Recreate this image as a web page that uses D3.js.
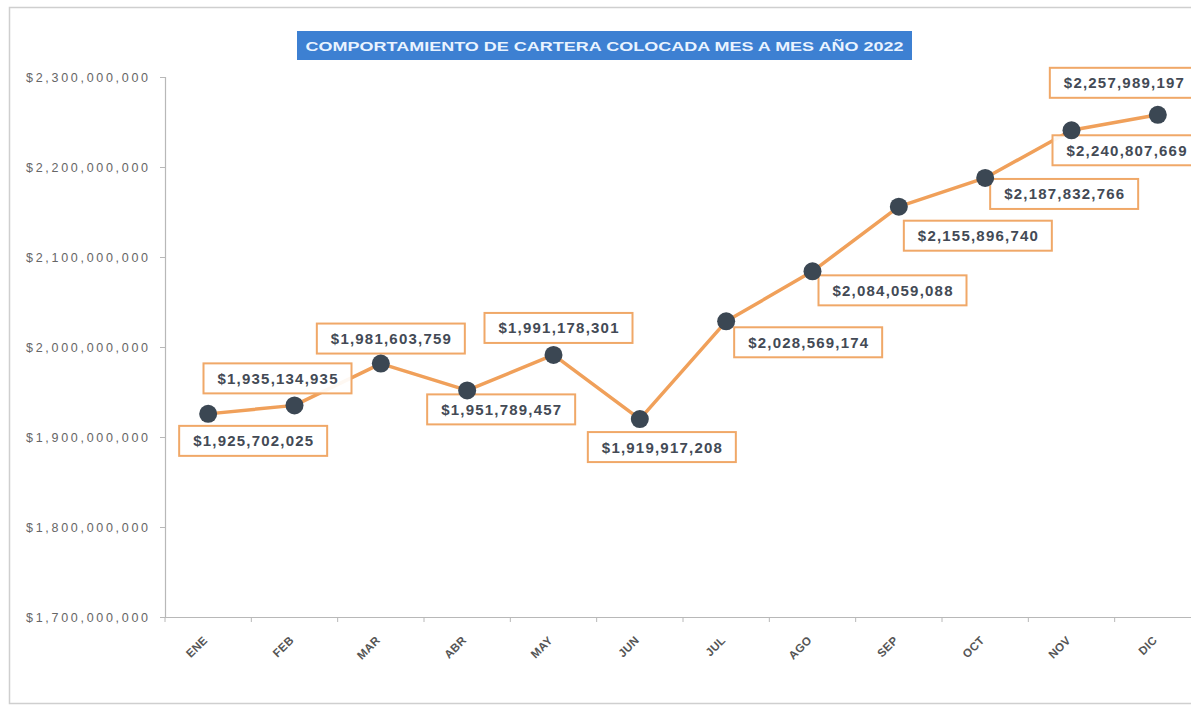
<!DOCTYPE html>
<html><head><meta charset="utf-8">
<script src="https://cdn.jsdelivr.net/npm/d3@7"></script>
<style>
html,body{margin:0;padding:0;background:#fff;}
svg{display:block;font-family:"Liberation Sans",Arial,sans-serif;}
</style></head>
<body>
<svg id="chart" width="1191" height="711"></svg>
<script>
const titleText = "COMPORTAMIENTO DE CARTERA COLOCADA MES A MES AÑO 2022";
const months = ["ENE","FEB","MAR","ABR","MAY","JUN","JUL","AGO","SEP","OCT","NOV","DIC"];
const values = [1925702025,1935134935,1981603759,1951789457,1991178301,1919917208,2028569174,2084059088,2155896740,2187832766,2240807669,2257989197];
const yTicks = [1700000000,1800000000,1900000000,2000000000,2100000000,2200000000,2300000000];
// label box placement relative to each point (layout only)
const labelOffsets = [[45,27],[-17,-27],[10,-25],[34,19],[5,-27],[22,28],[82,21],[80,19],[79,29],[79,16],[55,20],[-34,-32]];

const svg = d3.select("#chart");
const margin = {left:165, top:77, bottom:617, right:1201};

svg.append("rect").attr("x",9.5).attr("y",7.5).attr("width",1220).attr("height",696)
  .attr("fill","#fff").attr("stroke","#cfcfcf").attr("stroke-width",1.5);

const x = d3.scaleBand().domain(months).range([margin.left, margin.right]);
const y = d3.scaleLinear().domain([1700000000, 2300000000]).range([margin.bottom, margin.top]);

const fmt = v => "$" + d3.format(",")(v);

// Y axis
const yAxis = d3.axisLeft(y).tickValues(yTicks).tickSize(5).tickPadding(12).tickFormat(fmt);
const gy = svg.append("g").attr("transform",`translate(${margin.left},0)`).call(yAxis);
gy.select(".domain").attr("stroke","#b8b8b8").attr("stroke-width",1.2);
gy.selectAll(".tick line").attr("stroke","#b8b8b8");
gy.selectAll(".tick text").attr("fill","#666").attr("font-size","12.5px")
  .attr("textLength",122).attr("lengthAdjust","spacing");

// X axis
const xAxis = d3.axisBottom(x).tickSize(0).tickFormat("");
const gx = svg.append("g").attr("transform",`translate(0,${margin.bottom})`).call(xAxis);
gx.select(".domain").attr("stroke","#b8b8b8").attr("stroke-width",1.2);
const bounds = months.map(m => x(m)).concat([margin.right]);
gx.selectAll(".bt").data(bounds).join("line").attr("class","bt")
  .attr("x1",d=>d).attr("x2",d=>d).attr("y1",0).attr("y2",5).attr("stroke","#b8b8b8");
svg.append("g").selectAll("text").data(months).join("text")
  .attr("transform", d => `translate(${x(d)+x.bandwidth()/2},${margin.bottom+24}) rotate(-45)`)
  .attr("text-anchor","end").attr("font-size","11.5px").attr("font-weight","bold")
  .attr("fill","#555").attr("letter-spacing","0.3px").text(d=>d);

// Title
const tb = svg.append("g");
tb.append("rect").attr("x",297).attr("y",31).attr("width",615).attr("height",29).attr("fill","#3d80d2");
tb.append("text").attr("x",604.5).attr("y",50.5).attr("text-anchor","middle")
  .attr("fill","#e9f3ff").attr("font-weight","bold").attr("font-size","13px")
  .attr("textLength",598).attr("lengthAdjust","spacingAndGlyphs").text(titleText);

// Line
const line = d3.line().x((d,i)=>x(months[i])+x.bandwidth()/2).y(d=>y(d));
svg.append("path").datum(values).attr("d",line).attr("fill","none")
  .attr("stroke","#f0a05a").attr("stroke-width",3.5).attr("stroke-linejoin","round");

// Labels
const lg = svg.append("g");
values.forEach((v,i)=>{
  const px = x(months[i])+x.bandwidth()/2, py = y(v);
  const cx = px + labelOffsets[i][0], cy = py + labelOffsets[i][1];
  lg.append("rect").attr("x",cx-74).attr("y",cy-15).attr("width",148).attr("height",30)
    .attr("fill","#fff").attr("fill-opacity",0.92).attr("stroke","#f0a868").attr("stroke-width",2);
  lg.append("text").attr("x",cx).attr("y",cy+5.5).attr("text-anchor","middle")
    .attr("font-size","15px").attr("font-weight","bold").attr("fill","#434a55")
    .attr("textLength",120).attr("lengthAdjust","spacing").text(fmt(v));
});

// Markers
svg.append("g").selectAll("circle").data(values).join("circle")
  .attr("cx",(d,i)=>x(months[i])+x.bandwidth()/2).attr("cy",d=>y(d)).attr("r",9)
  .attr("fill","#3b4753");
</script>
</body></html>
